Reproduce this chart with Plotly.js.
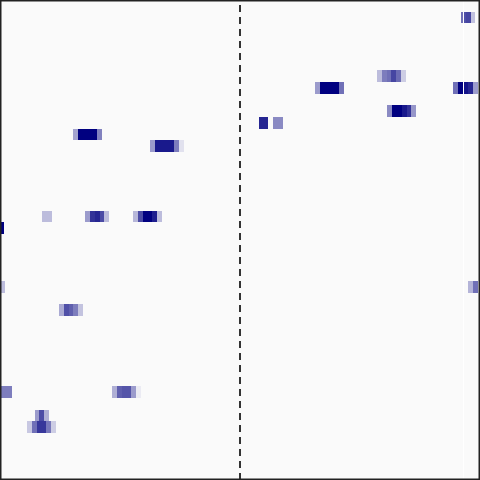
<!DOCTYPE html>
<html>
<head>
<meta charset="utf-8">
<script src="https://cdn.plot.ly/plotly-3.0.1.min.js"></script>
<style>html,body{margin:0;padding:0;background:#fafafa;}#chart{width:480px;height:480px;}</style>
</head>
<body>
<div id="chart"></div>
<script>
// Grid size: rows (pitches, top = 0) and time steps
const nRows = 41;
const nSteps = 480;

// Note segments: row index, start step, end step, intensity (0..1)
const segRow   = [1,1,1,1, 6,6,6,6,6,6, 7,7,7,7,7,7,7,7, 9,9,9,9,9, 10,10,
                  11,11,11, 12,12,12,12,
                  18,18,18,18,18,18,18,18,18,18,18, 19, 24,24,24,
                  26,26,26,26,26, 33,33,33,33,33,33, 35,35,35, 36,36,36,36,36];
const segStart = [461,464,466,471, 377,382,387,391,396,401, 315,320,339,453,458,464,468,473, 387,392,402,407,411, 259,273,
                  73,78,97, 150,155,174,179,
                  42,85,90,95,100,104,133,138,143,152,157, 0, 0,468,473,
                  59,64,69,73,78, 0,112,117,122,131,136, 35,39,44, 27,32,37,46,51];
const segEnd   = [464,466,471,475, 382,387,391,396,401,406, 320,339,344,458,464,468,473,478, 392,402,407,411,416, 268,283,
                  78,97,102, 155,174,179,184,
                  52,90,95,100,104,109,138,143,152,157,162, 4, 5,473,478,
                  64,69,73,78,83, 12,117,122,131,136,141, 39,44,49, 32,37,46,51,56];
const segValue = [0.55,0.68,0.72,0.23, 0.25,0.5,0.55,0.72,0.57,0.18, 0.38,1.0,0.55,0.55,1.0,0.92,0.85,0.38, 0.45,1.0,0.9,0.8,0.4, 0.85,0.45,
                  0.35,1.0,0.48, 0.38,0.9,0.5,0.1,
                  0.25,0.38,0.8,0.85,0.7,0.25,0.27,0.7,1.0,0.88,0.25, 1.0, 0.25,0.28,0.55,
                  0.32,0.68,0.62,0.5,0.22, 0.5,0.3,0.62,0.66,0.38,0.06, 0.38,0.7,0.3, 0.2,0.55,0.78,0.52,0.18];

// Build the grid the heatmap needs
const z = [];
for (let r = 0; r < nRows; r++) z.push(new Array(nSteps).fill(0));
for (let i = 0; i < segRow.length; i++) {
  for (let t = segStart[i]; t < segEnd[i]; t++) z[segRow[i]][t] = segValue[i];
}
const rowIdx = [];
for (let r = 0; r < nRows; r++) rowIdx.push(r);
const stepIdx = [];
for (let t = 0; t < nSteps; t++) stepIdx.push(t + 0.5);

const splitStep = 240;

Plotly.newPlot('chart', [{
  type: 'heatmap',
  z: z, x: stepIdx, y: rowIdx,
  zmin: 0, zmax: 1, zsmooth: false,
  colorscale: [[0, '#fafafa'], [1, '#000080']],
  showscale: false, hoverinfo: 'skip'
}], {
  width: 480, height: 480,
  margin: {l: 0, r: 0, t: 0, b: 0, pad: 0},
  paper_bgcolor: '#fafafa', plot_bgcolor: '#fafafa',
  xaxis: {range: [0, nSteps], visible: false, fixedrange: true},
  yaxis: {range: [nRows - 0.5, -0.5], visible: false, fixedrange: true},
  shapes: [
    {type: 'line', xref: 'x', yref: 'paper', x0: 463.5, x1: 463.5, y0: 0, y1: 1,
     line: {color: '#ffffff', width: 1}},
    {type: 'line', xref: 'x', yref: 'paper', x0: splitStep, x1: splitStep, y0: 0, y1: 1,
     line: {color: '#333333', width: 2, dash: '7px,5px'}},
    {type: 'rect', xref: 'paper', yref: 'paper', x0: 0, x1: 1, y0: 0, y1: 1,
     line: {color: '#222222', width: 3}, fillcolor: 'rgba(0,0,0,0)'}
  ],
  showlegend: false
}, {staticPlot: true, displayModeBar: false});
</script>
</body>
</html>
